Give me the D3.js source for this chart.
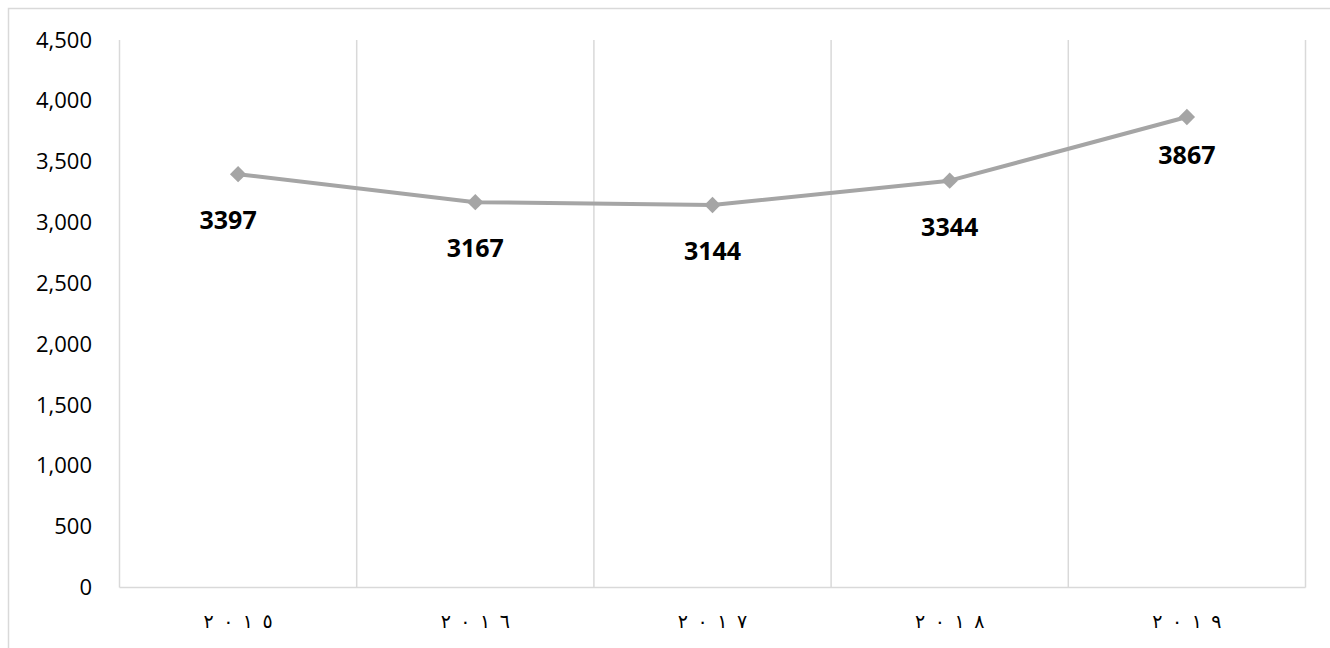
<!DOCTYPE html>
<html lang="en">
<head>
<meta charset="utf-8">
<title>Line chart 2015-2019</title>
<style>
body { margin:0; background:#fff; }
text { font-family:"Open Sans","DejaVu Sans",sans-serif; }
</style>
<script src="https://cdnjs.cloudflare.com/ajax/libs/d3/7.8.5/d3.min.js"></script>
</head>
<body>
<script>
// chart data
var years = ["٢٠١٥", "٢٠١٦", "٢٠١٧", "٢٠١٨", "٢٠١٩"];
var values = [3397, 3167, 3144, 3344, 3867];
var yTicks = [0, 500, 1000, 1500, 2000, 2500, 3000, 3500, 4000, 4500];

var width = 1330,
	height = 648;

var svg = d3.select("body").append("svg")
	.attr("width", width)
	.attr("height", height);

// outer chart frame (right and bottom fall off the page)
svg.append("rect")
	.attr("x", 8.5).attr("y", 8.5)
	.attr("width", 1340).attr("height", 660)
	.style("fill", "none")
	.style("stroke", "#d9d9d9")
	.style("stroke-width", "1.5px");

var plotLeft = 119.5, plotRight = 1305.5, plotTop = 40, plotBottom = 587.5;

var x = d3.scaleBand().domain(years).range([plotLeft, plotRight]);
var y = d3.scaleLinear().domain([0, 4500]).range([plotBottom, plotTop]);

// vertical gridlines at category boundaries
var bounds = years.map(function(d) { return x(d); }).concat([plotRight]);
svg.selectAll("line.grid")
	.data(bounds)
	.enter()
	.append("line")
		.attr("class", "grid")
		.attr("x1", function(d) { return d; })
		.attr("x2", function(d) { return d; })
		.attr("y1", plotTop)
		.attr("y2", plotBottom)
		.style("stroke", "#d9d9d9")
		.style("stroke-width", "1.5px");

// category axis line
svg.append("line")
	.attr("x1", plotLeft).attr("x2", plotRight)
	.attr("y1", plotBottom).attr("y2", plotBottom)
	.style("stroke", "#d9d9d9")
	.style("stroke-width", "1.5px");

// y axis labels
var yAxis = d3.axisLeft(y).tickValues(yTicks).tickSize(0).tickPadding(0).tickFormat(d3.format(","));
var gy = svg.append("g").attr("transform", "translate(92,0)").call(yAxis);
gy.select(".domain").remove();
gy.selectAll("text")
	.style("font-family", "'Open Sans','DejaVu Sans',sans-serif")
	.style("font-size", "22px")
	.style("fill", "#000");

// x axis labels (Arabic-Indic digits, spaced out)
svg.selectAll("text.xl")
	.data(years)
	.enter()
	.append("text")
		.attr("class", "xl")
		.attr("x", function(d) { return x(d) + x.bandwidth() / 2; })
		.attr("y", 628)
		.attr("text-anchor", "middle")
		.style("font-family", "'DejaVu Sans',sans-serif")
		.style("font-size", "19px")
		.style("direction", "ltr")
		.style("unicode-bidi", "bidi-override")
		.text(function(d) { return d.split("").join("\u2002"); });

// line
var line = d3.line()
	.x(function(d, i) { return x(years[i]) + x.bandwidth() / 2; })
	.y(function(d) { return y(d); });

svg.append("path")
	.datum(values)
	.attr("d", line)
	.style("fill", "none")
	.style("stroke", "#a5a5a5")
	.style("stroke-width", "4px")
	.style("stroke-linejoin", "round");

// diamond markers
svg.selectAll("path.mk")
	.data(values)
	.enter()
	.append("path")
		.attr("class", "mk")
		.attr("d", d3.symbol().type(d3.symbolDiamond2).size(170))
		.attr("transform", function(d, i) {
			return "translate(" + (x(years[i]) + x.bandwidth() / 2) + "," + y(d) + ")";
		})
		.style("fill", "#a5a5a5");

// data labels
svg.selectAll("text.lbl")
	.data(values)
	.enter()
	.append("text")
		.attr("class", "lbl")
		.attr("x", function(d, i) { return x(years[i]) + x.bandwidth() / 2 - (i === 0 ? 10 : 0); })
		.attr("y", function(d, i) { return y(d) + (i === 4 ? 47 : 55); })
		.attr("text-anchor", "middle")
		.style("font-size", "25px")
		.style("font-weight", "bold")
		.style("fill", "#000")
		.text(function(d) { return d; });
</script>
</body>
</html>
